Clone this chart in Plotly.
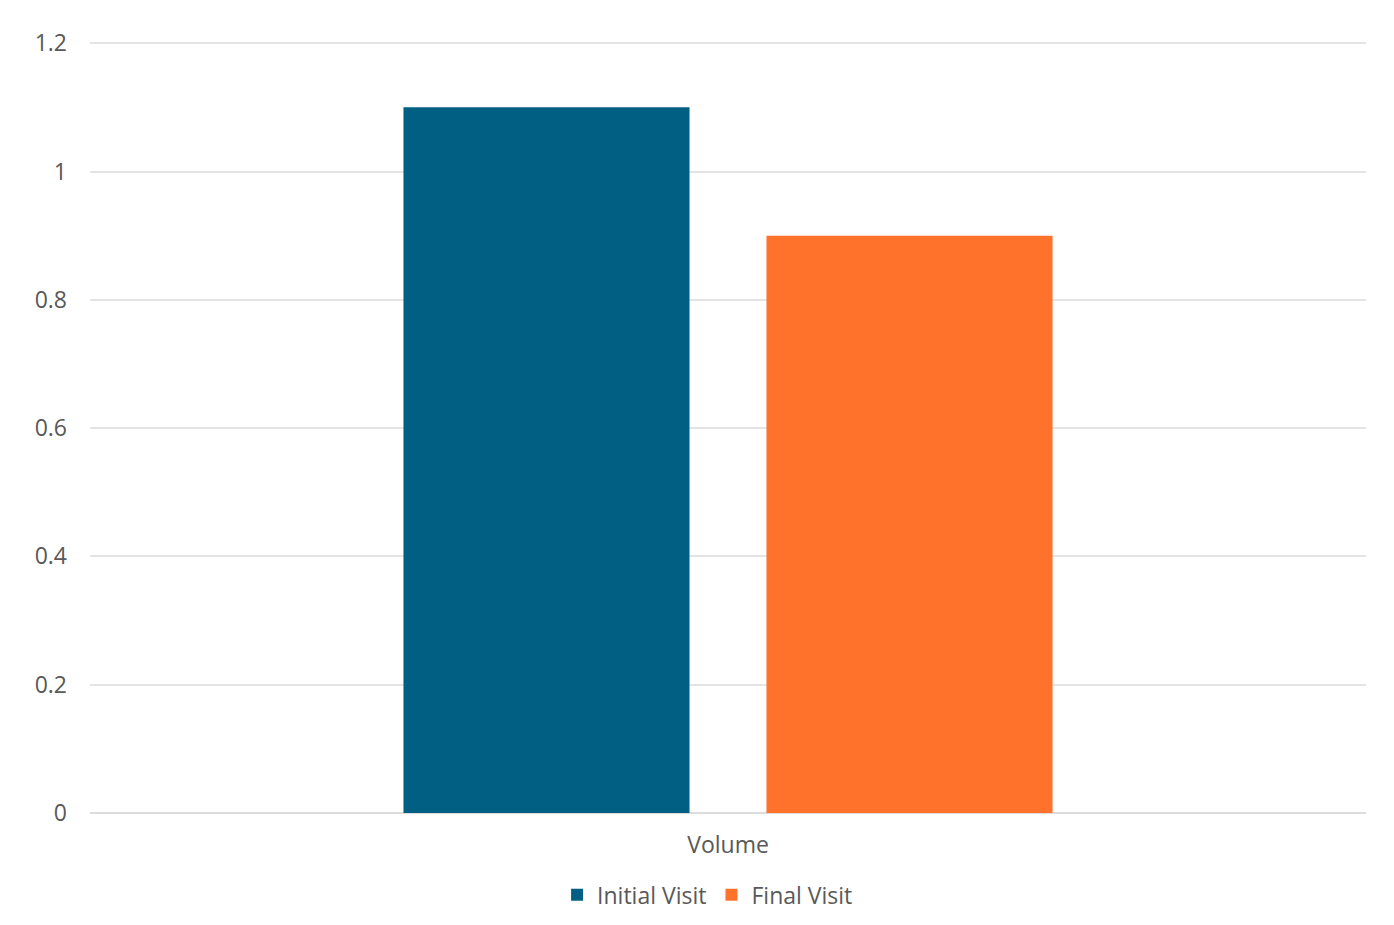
import plotly.graph_objects as go

categories = ["Volume"]
series_names = ["Initial Visit", "Final Visit"]
initial_visit = [1.1]
final_visit = [0.9]
tick_vals = [0, 0.2, 0.4, 0.6, 0.8, 1, 1.2]
tick_text = ["0", "0.2", "0.4", "0.6", "0.8", "1", "1.2"]
colors = ["#005F83", "#FF722B"]

fig = go.Figure()
for name, vals, col in zip(series_names, [initial_visit, final_visit], colors):
    fig.add_trace(go.Bar(x=categories, y=vals, name=name, marker=dict(color=col, line=dict(width=0))))

fig.update_layout(
    width=1394, height=925,
    margin=dict(l=82, r=36, t=32, b=120),
    paper_bgcolor="white", plot_bgcolor="white",
    barmode="group", bargap=0.431, bargroupgap=0.212,
    font=dict(family="Open Sans, Lato, sans-serif", size=23, color="#595959"),
    showlegend=True,
    legend=dict(orientation="h", x=0.484, xanchor="center", y=-0.078, yanchor="top",
                font=dict(size=23, color="#595959"), itemwidth=30, traceorder="normal"),
    xaxis=dict(showgrid=False, showline=False, ticks="", ticklabelstandoff=16),
    yaxis=dict(range=[0, 1.205], tickvals=tick_vals, ticktext=tick_text,
               showgrid=True, gridcolor="#E3E3E3", gridwidth=2,
               zeroline=True, zerolinecolor="#DCDCDC", zerolinewidth=2,
               showline=False, ticks="", ticklabelstandoff=22),
)

fig.write_html("out.html")
